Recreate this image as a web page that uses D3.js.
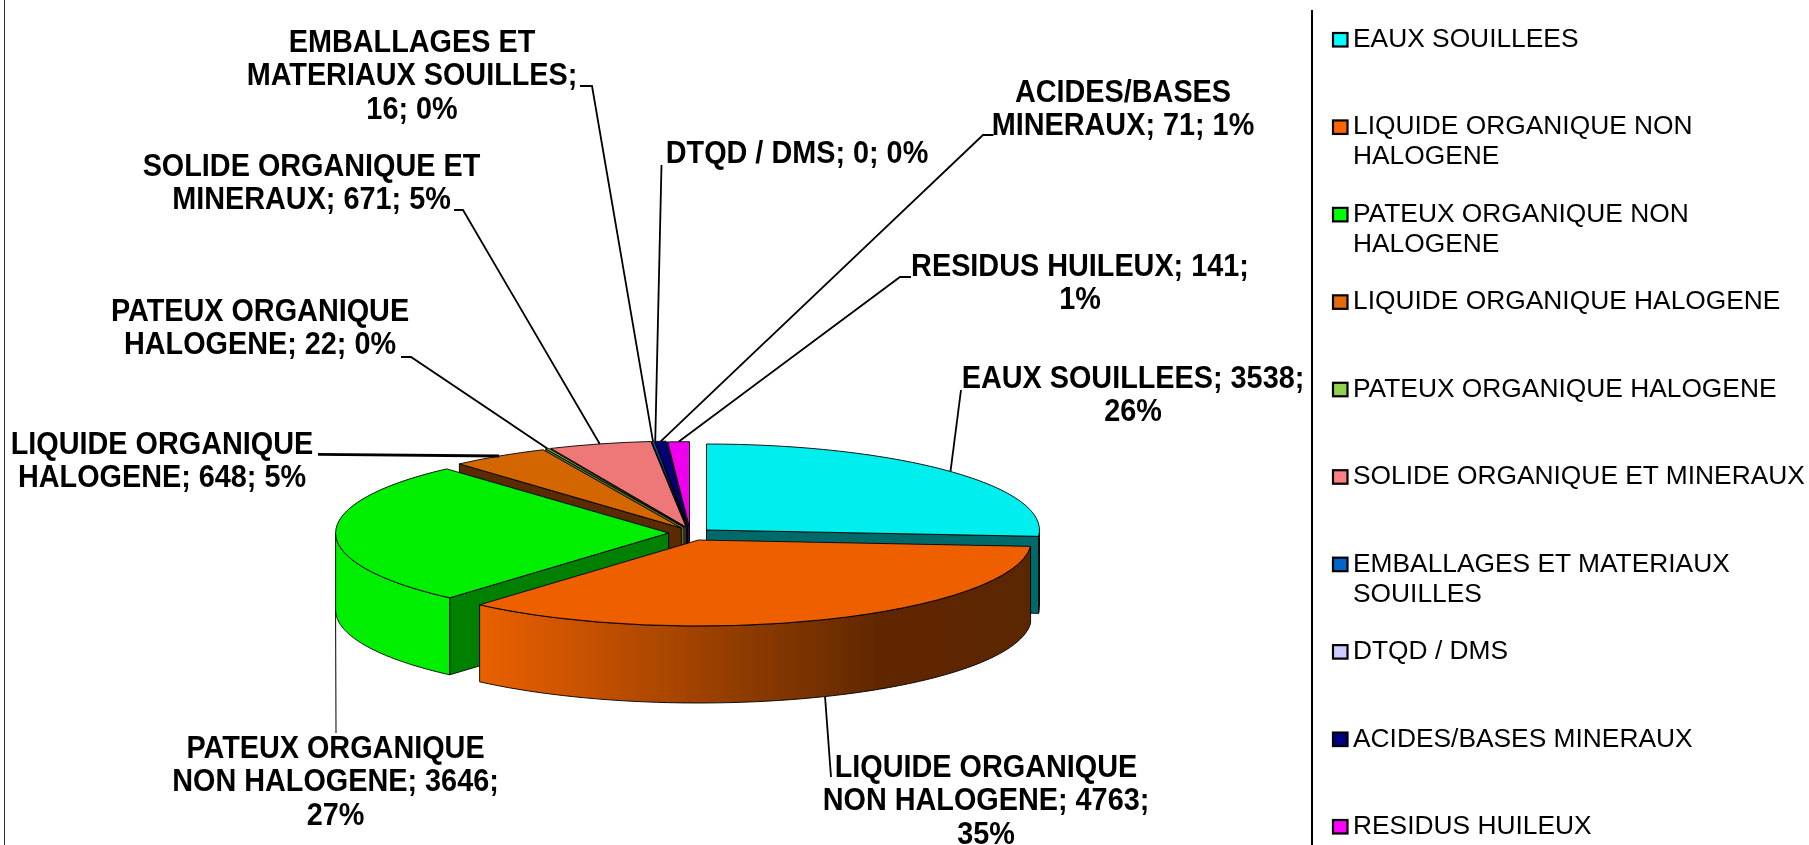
<!DOCTYPE html>
<html><head><meta charset="utf-8">
<script src="https://cdn.jsdelivr.net/npm/d3@7/dist/d3.min.js"></script>
<style>html,body{margin:0;padding:0;background:#fff;overflow:hidden}svg{display:block}
text{font-family:"Liberation Sans",Arial,sans-serif;fill:#000}</style></head><body>
<svg id="chart" width="1809" height="845"></svg>
<script>
// ---- data ----
const categories = ["EAUX SOUILLEES","LIQUIDE ORGANIQUE NON HALOGENE","PATEUX ORGANIQUE NON HALOGENE","LIQUIDE ORGANIQUE HALOGENE","PATEUX ORGANIQUE HALOGENE","SOLIDE ORGANIQUE ET MINERAUX","EMBALLAGES ET MATERIAUX SOUILLES","DTQD / DMS","ACIDES/BASES MINERAUX","RESIDUS HUILEUX"];
const values = [3538,4763,3646,648,22,671,16,0,71,141];
const legendLines = [["EAUX SOUILLEES"],["LIQUIDE ORGANIQUE NON","HALOGENE"],["PATEUX ORGANIQUE NON","HALOGENE"],["LIQUIDE ORGANIQUE HALOGENE"],["PATEUX ORGANIQUE HALOGENE"],["SOLIDE ORGANIQUE ET MINERAUX"],["EMBALLAGES ET MATERIAUX","SOUILLES"],["DTQD / DMS"],["ACIDES/BASES MINERAUX"],["RESIDUS HUILEUX"]];
const labelLines = [["EAUX SOUILLEES; 3538;","26%"],["LIQUIDE ORGANIQUE","NON HALOGENE; 4763;","35%"],["PATEUX ORGANIQUE","NON HALOGENE; 3646;","27%"],["LIQUIDE ORGANIQUE","HALOGENE; 648; 5%"],["PATEUX ORGANIQUE","HALOGENE; 22; 0%"],["SOLIDE ORGANIQUE ET","MINERAUX; 671; 5%"],["EMBALLAGES ET","MATERIAUX SOUILLES;","16; 0%"],["DTQD / DMS; 0; 0%"],["ACIDES/BASES","MINERAUX; 71; 1%"],["RESIDUS HUILEUX; 141;","1%"]];

// ---- styles ----
const legendColors = ["#00FFFF","#FF6600","#00FF00","#E36C09","#92D050","#FF8080","#0066CC","#CCCCFF","#000080","#FF00FF"];
const topColors = ["#00EEEE","#EE5E00","#00EE00","#D46606","#88C24A","#EE7777","#005FBE","#BEBEEE","#000078","#EE00EE"];
const planeColors = ["#006B6B","#602800","#008000","#5A2A00","#4F7028","#7C4040","#003366","#666688","#000040","#800080"];
const outerColors = ["#006B6B","url(#orangeWall)","#00EE00","#5A2A00","#4F7028","#7C4040","#003366","#666688","#000040","#800080"];

// ---- layout (pixels, not data) ----
const W = 1809, H = 845, RX = 333, RY = 86, DEPTH = 77;
const centerX = [706.5,698.5,668.6,681.3,684,686,687,688,688,689.5];
const centerY = [530,540,533,528,527,527,527,527,527,527.7];
const drawOrder = [9,8,7,6,5,4,3,2,0,1];
const labelX = [1133,986,335.5,162,260,311.5,412,797,1123,1080];
const labelBase = [388,777,758,454,321,175.5,51.7,163,101.7,276];
const labelGap = 33.4;
const labelFont = 30.5, labelStretch = 0.945;
// leader: elbow points from the label towards the slice
const leaderElbow = [[[961,390]],[[831,777]],[[336,733]],[[318,454.3]],[[401,357],[411,357]],[[454,210],[463,210]],[[580,86],[592,86]],[[661.5,165]],[[993.5,135],[983,135]],[[911,277],[900,277]]];
const leaderWidth = [1.8,1.8,1,2.8,1.8,1.8,1.8,1.8,1.8,1.8];
const onWall = [false,true,true,false,false,false,false,false,false,false];

const root = d3.select("#chart");
const defs = root.append("defs");
const grad = defs.append("linearGradient").attr("id","orangeWall").attr("gradientUnits","userSpaceOnUse")
  .attr("x1",480).attr("x2",1032).attr("y1",0).attr("y2",0);
[[0,"#E86000"],[0.06,"#E05C00"],[0.72,"#602800"],[1,"#5A2600"]].forEach(s=>grad.append("stop").attr("offset",s[0]).attr("stop-color",s[1]));
defs.append("filter").attr("id","soft").attr("filterUnits","userSpaceOnUse").attr("x",0).attr("y",0).attr("width",W).attr("height",H)
  .append("feGaussianBlur").attr("stdDeviation",0.45);
const svg = root.append("g").attr("filter","url(#soft)");

// frame
svg.append("line").attr("x1",4.5).attr("x2",4.5).attr("y1",0).attr("y2",H).attr("stroke","#333").attr("stroke-width",1);
svg.append("line").attr("x1",1312).attr("x2",1312).attr("y1",10).attr("y2",H).attr("stroke","#000").attr("stroke-width",2);

// pie
const pie = d3.pie().sort(null).value(d=>d);
const arcs = pie(values);
const arcGen = d3.arc().innerRadius(0).outerRadius(RX);
const rim = (i,a,dy=0)=>[centerX[i]+RX*Math.sin(a), centerY[i]-RY*Math.cos(a)+dy];
const line = d3.line();
const g = svg.append("g");
const EDGE = "#000", EW = 0.9;

drawOrder.forEach(i=>{
  const d = arcs[i], c = [centerX[i],centerY[i]];
  if (d.endAngle - d.startAngle <= 0) return;
  // radial walls
  const plane = a => line([c, rim(i,a), rim(i,a,DEPTH), [c[0],c[1]+DEPTH]])+"Z";
  if (Math.sin(d.startAngle) < 0) g.append("path").attr("d",plane(d.startAngle)).attr("fill",planeColors[i]).attr("stroke",EDGE).attr("stroke-width",EW);
  if (Math.sin(d.endAngle) > 0.001) g.append("path").attr("d",plane(d.endAngle)).attr("fill",planeColors[i]).attr("stroke",EDGE).attr("stroke-width",EW);
  // outer wall (front half only)
  const a0 = Math.max(d.startAngle, Math.PI/2), a1 = Math.min(d.endAngle, 3*Math.PI/2);
  if (a1 > a0) {
    const t = d3.scaleLinear().domain([0,60]).range([a0,a1]);
    const ts = d3.range(61).map(t);
    const pts = ts.map(a=>rim(i,a)).concat(ts.slice().reverse().map(a=>rim(i,a,DEPTH)));
    g.append("path").attr("d",line(pts)+"Z").attr("fill",outerColors[i]).attr("stroke",EDGE).attr("stroke-width",EW);
  }
  // top face
  g.append("path").attr("d",arcGen(d))
    .attr("transform",`translate(${c[0]},${c[1]}) scale(1,${RY/RX})`)
    .attr("vector-effect","non-scaling-stroke")
    .attr("fill",topColors[i]).attr("stroke",EDGE).attr("stroke-width",EW);
});

// leaders
categories.forEach((_,i)=>{
  const d = arcs[i], mid = (d.startAngle+d.endAngle)/2;
  const end = rim(i,mid,onWall[i]?DEPTH:0);
  svg.append("path").attr("d",line(leaderElbow[i].concat([end]))).attr("fill","none").attr("stroke","#000").attr("stroke-width",leaderWidth[i]);
});

// data labels
categories.forEach((_,i)=>{
  labelLines[i].forEach((t,k)=>{
    svg.append("text")
      .attr("transform",`translate(${labelX[i]},${labelBase[i]+k*labelGap}) scale(${labelStretch},1)`)
      .attr("text-anchor","middle").attr("font-size",labelFont).attr("font-weight","bold").text(t);
  });
});

// legend
const ly = d3.scalePoint().domain(d3.range(10)).range([32,819]);
categories.forEach((_,i)=>{
  svg.append("rect").attr("x",1333).attr("y",ly(i)+1).attr("width",14.5).attr("height",13.5)
    .attr("fill",legendColors[i]).attr("stroke","#000").attr("stroke-width",2.2);
  legendLines[i].forEach((t,k)=>{
    svg.append("text").attr("x",1353).attr("y",ly(i)+15+k*30).attr("font-size",26.35).text(t);
  });
});
</script></body></html>
